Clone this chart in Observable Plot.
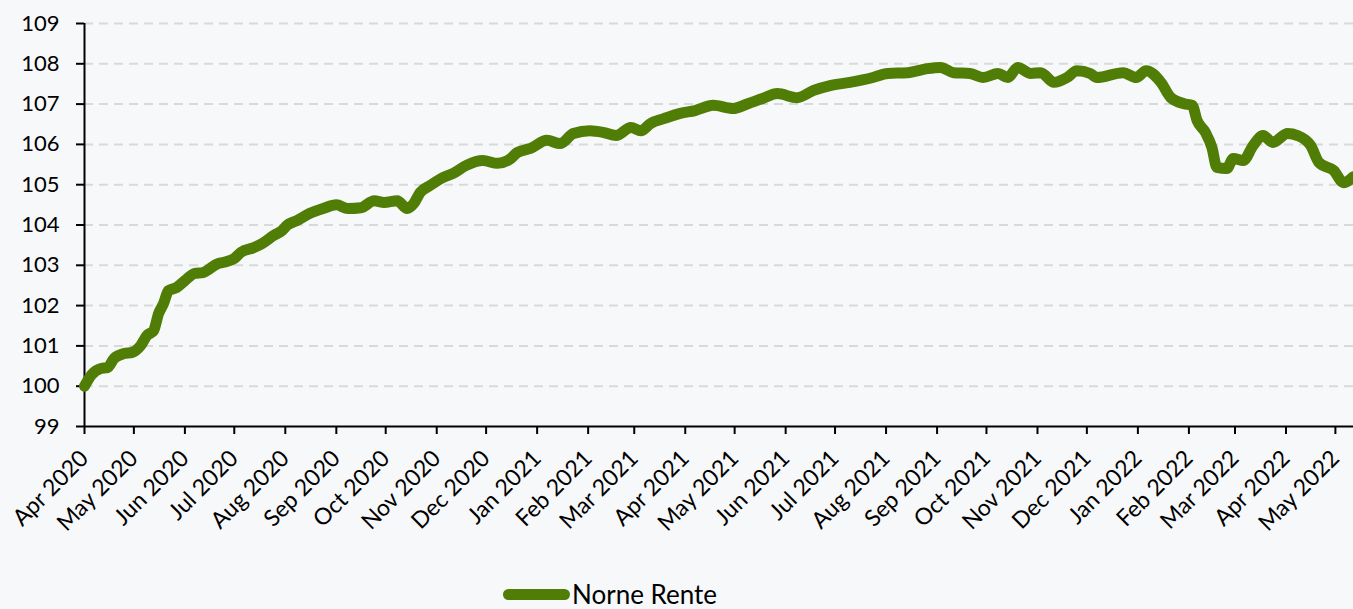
<!DOCTYPE html>
<html><head><meta charset="utf-8">
<script src="https://cdn.jsdelivr.net/npm/d3@7"></script>
<script src="https://cdn.jsdelivr.net/npm/@observablehq/plot@0.6"></script>
<style>
html,body{margin:0;padding:0;background:#f7f8fa;font-family:Lato,sans-serif;}
#wrap{position:relative;width:1353px;height:609px;overflow:hidden;}
#legend{position:absolute;left:503px;top:580px;height:28px;line-height:26px;display:flex;align-items:center;font-size:26px;color:#000;white-space:nowrap;}
#legend .sw{display:inline-block;width:67px;height:11px;border-radius:6px;background:#4f7d06;margin-right:2px;}
</style></head><body>
<div id="wrap"><div id="chart"></div><div id="legend"><span class="sw"></span><span>Norne Rente</span></div></div>
<script>
const seriesName = "Norne Rente";
const dates = [
"2020-04-01","2020-04-05","2020-04-11","2020-04-15","2020-04-19","2020-04-25","2020-04-30",
"2020-05-05","2020-05-09","2020-05-13","2020-05-16","2020-05-19","2020-05-22","2020-05-27",
"2020-06-01","2020-06-07","2020-06-12","2020-06-21","2020-06-24",
"2020-07-01","2020-07-05","2020-07-13","2020-07-18","2020-07-25","2020-07-30",
"2020-08-02","2020-08-08","2020-08-16","2020-08-24",
"2020-09-01","2020-09-08","2020-09-16","2020-09-24","2020-09-30",
"2020-10-08","2020-10-14","2020-10-18","2020-10-22","2020-10-28",
"2020-11-05","2020-11-11","2020-11-19","2020-11-29",
"2020-12-08","2020-12-16","2020-12-20","2020-12-28",
"2021-01-07","2021-01-15","2021-01-23",
"2021-02-02","2021-02-10","2021-02-18","2021-02-27",
"2021-03-05","2021-03-11","2021-03-19","2021-03-29",
"2021-04-07","2021-04-18","2021-04-30",
"2021-05-09","2021-05-18","2021-05-27",
"2021-06-08","2021-06-18","2021-06-28",
"2021-07-10","2021-07-24",
"2021-08-02","2021-08-14","2021-08-26",
"2021-09-03","2021-09-11","2021-09-21","2021-09-29",
"2021-10-08","2021-10-14","2021-10-20","2021-10-28",
"2021-11-03","2021-11-11","2021-11-19","2021-11-25",
"2021-12-03","2021-12-07","2021-12-23","2021-12-31",
"2022-01-06","2022-01-15","2022-01-21","2022-01-29",
"2022-02-03","2022-02-06","2022-02-11","2022-02-15","2022-02-18","2022-02-24","2022-02-28",
"2022-03-06","2022-03-12","2022-03-18","2022-03-24",
"2022-04-02","2022-04-08","2022-04-16","2022-04-21","2022-04-30",
"2022-05-06","2022-05-12"
];
const values = [
100.0,100.27,100.44,100.46,100.69,100.81,100.84,
101.0,101.26,101.38,101.80,102.05,102.37,102.45,
102.62,102.80,102.82,103.04,103.07,
103.17,103.32,103.44,103.54,103.74,103.86,
103.99,104.11,104.29,104.41,
104.50,104.41,104.43,104.60,104.56,
104.60,104.41,104.53,104.81,104.98,
105.18,105.28,105.48,105.60,
105.53,105.65,105.80,105.90,
106.10,106.02,106.27,
106.34,106.30,106.22,106.42,
106.34,106.52,106.64,106.77,
106.84,106.97,106.89,
107.01,107.14,107.26,
107.16,107.34,107.46,
107.54,107.66,
107.76,107.78,107.88,
107.91,107.78,107.76,107.66,
107.76,107.66,107.91,107.76,
107.78,107.54,107.66,107.83,
107.76,107.66,107.78,107.66,
107.83,107.54,107.16,107.01,
106.97,106.59,106.30,105.92,105.43,105.40,105.65,
105.60,105.97,106.22,106.05,
106.27,106.22,105.97,105.55,105.35,
105.05,105.20
];
const yTicks = [99,100,101,102,103,104,105,106,107,108,109];
const xDomain = ["2020-04-01","2022-05-12"];
const xTickMonths = ["2020-04-01","2020-05-01","2020-06-01","2020-07-01","2020-08-01","2020-09-01","2020-10-01","2020-11-01","2020-12-01",
"2021-01-01","2021-02-01","2021-03-01","2021-04-01","2021-05-01","2021-06-01","2021-07-01","2021-08-01","2021-09-01","2021-10-01","2021-11-01","2021-12-01",
"2022-01-01","2022-02-01","2022-03-01","2022-04-01","2022-05-01"];

const color = "#4f7d06";
const data = dates.map((d,i)=>({date:new Date(d+"T00:00:00Z"), value:values[i], series:seriesName}));
const xTicksD = xTickMonths.map(d=>new Date(d+"T00:00:00Z"));
const fmt = d3.utcFormat("%b %Y");

const chart = Plot.plot({
  width:1353, height:570,
  marginLeft:84, marginRight:0, marginTop:23, marginBottom:144,
  style:{background:"#f7f8fa", fontFamily:"Lato, sans-serif", fontSize:"22px", color:"#000", overflow:"visible"},
  x:{type:"utc", domain:xDomain.map(d=>new Date(d+"T00:00:00Z"))},
  y:{domain:[99,109]},
  marks:[
    Plot.gridY(yTicks.filter(t=>t>99), {stroke:"#d9d9d9", strokeOpacity:1, strokeWidth:2, strokeDasharray:"9,6"}),
    Plot.axisY(yTicks, {tickSize:8, tickPadding:17, tickFormat:d=>String(d), stroke:"#000", strokeWidth:2, label:null, fontSize:22}),
    Plot.axisX(xTicksD, {tickSize:8, tickPadding:20, tickRotate:-45, tickFormat:fmt, stroke:"#000", strokeWidth:2, label:null, fontSize:23}),
    Plot.ruleX([new Date(xDomain[0]+"T00:00:00Z")], {stroke:"#000", strokeWidth:2}),
    Plot.ruleY([99], {stroke:"#000", strokeWidth:2}),
    Plot.lineY(data, {x:"date", y:"value", stroke:color, strokeWidth:11, strokeLinecap:"round", strokeLinejoin:"round", curve:"monotone-x"})
  ]
});
document.getElementById("chart").appendChild(chart);
</script>
</body></html>
